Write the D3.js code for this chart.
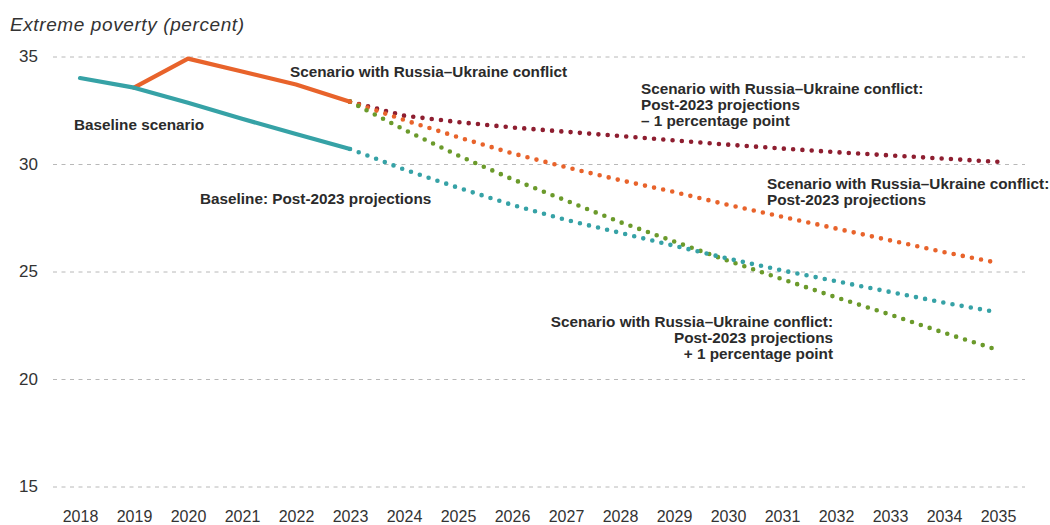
<!DOCTYPE html>
<html>
<head>
<meta charset="utf-8">
<script src="https://cdn.jsdelivr.net/npm/d3@7/dist/d3.min.js"></script>
<style>
  html, body { margin: 0; padding: 0; background: #fff; }
  svg { display: block; font-family: "Liberation Sans", Arial, Helvetica, sans-serif; }
</style>
</head>
<body>
<svg id="chart" width="1050" height="525"></svg>
<script>
// ---- data ----
const yearTicks = [2018, 2019, 2020, 2021, 2022, 2023, 2024, 2025, 2026, 2027, 2028, 2029, 2030, 2031, 2032, 2033, 2034, 2035];
const valueTicks = [15, 20, 25, 30, 35];

const baselineYears = [2018, 2019, 2020, 2021, 2022, 2023];
const baselineValues = [34.0, 33.55, 32.85, 32.1, 31.4, 30.7];

const conflictYears = [2019, 2020, 2021, 2022, 2023];
const conflictValues = [33.55, 34.9, 34.3, 33.7, 32.9];

const projYears = [2023, 2024, 2025, 2026, 2027, 2028, 2029, 2030, 2031, 2032, 2033, 2034, 2035];
const baselineProj = [30.7, 29.75, 28.9, 28.1, 27.4, 26.8, 26.2, 25.6, 25.05, 24.55, 24.05, 23.55, 23.1];
const conflictProj = [32.9, 32.05, 31.25, 30.5, 29.85, 29.25, 28.7, 28.1, 27.55, 27.0, 26.45, 25.9, 25.4];
const conflictMinus1Proj = [32.9, 32.25, 31.95, 31.7, 31.5, 31.3, 31.1, 30.9, 30.72, 30.55, 30.4, 30.25, 30.1];
const conflictPlus1Proj = [32.9, 31.6, 30.4, 29.3, 28.3, 27.3, 26.4, 25.5, 24.65, 23.8, 23.0, 22.15, 21.35];

// ---- layout ----
const svg = d3.select("#chart");
const colors = { teal: "#36a2a6", orange: "#e8632b", red: "#8e1e30", green: "#6b9a2b", text: "#2b2b2b" };

const x = d3.scaleLinear().domain([2018, 2035]).range([80, 998]);
const y = d3.scaleLinear().domain([15, 35]).range([486.5, 56.5]);

// gridlines + y labels
const yAxis = d3.axisLeft(y).tickValues(valueTicks).tickSize(-(1025 - 53)).tickPadding(15).tickFormat(d3.format("d"));
const gy = svg.append("g").attr("transform", "translate(53,0)").call(yAxis);
gy.select(".domain").remove();
gy.selectAll(".tick line").attr("stroke", "#b8b8b8").attr("stroke-width", 1).attr("stroke-dasharray", "4,4.5");
gy.selectAll(".tick text").attr("fill", "#333").style("font-size", "17px").attr("font-family", null);

// x labels
const xAxis = d3.axisBottom(x).tickValues(yearTicks).tickSize(0).tickFormat(d3.format("d"));
const gx = svg.append("g").attr("transform", "translate(0,486.5)").call(xAxis);
gx.select(".domain").remove();
gx.selectAll(".tick text").attr("fill", "#333").attr("y", 35.5).attr("dy", 0).style("font-size", "16px").attr("font-family", null);

// title
svg.append("text").attr("x", 10).attr("y", 31).attr("fill", "#333")
  .style("font-size", "19px").style("font-style", "italic").style("letter-spacing", "0.6px")
  .text("Extreme poverty (percent)");

const line = d3.line().x(d => x(d[0])).y(d => y(d[1]));
const zip = (xs, vs) => xs.map((v, i) => [v, vs[i]]);

function dotted(vals, color) {
  svg.append("path").datum(zip(projYears, vals))
    .attr("d", line).attr("fill", "none").attr("stroke", color)
    .attr("stroke-width", 4.6).attr("stroke-linecap", "round")
    .attr("stroke-dasharray", "0,9.3").attr("stroke-dashoffset", -9.3);
}
dotted(conflictMinus1Proj, colors.red);
dotted(conflictProj, colors.orange);
dotted(conflictPlus1Proj, colors.green);
dotted(baselineProj, colors.teal);

function solid(xs, vals, color) {
  svg.append("path").datum(zip(xs, vals)).attr("d", line).attr("fill", "none")
    .attr("stroke", color).attr("stroke-width", 4.2).attr("stroke-linecap", "round").attr("stroke-linejoin", "round");
}
solid(conflictYears, conflictValues, colors.orange);
solid(baselineYears, baselineValues, colors.teal);

// annotations
function label(lines, xPos, yFirst, anchor) {
  const t = svg.append("text").attr("fill", colors.text).attr("text-anchor", anchor || "start")
    .style("font-size", "15.3px").style("font-weight", "bold");
  lines.forEach((s, i) => t.append("tspan").attr("x", xPos).attr("y", yFirst + i * 16).text(s));
}
label(["Scenario with Russia–Ukraine conflict"], 290, 77);
label(["Baseline scenario"], 74, 130);
label(["Baseline: Post-2023 projections"], 200, 204);
label(["Scenario with Russia–Ukraine conflict:", "Post-2023 projections", "– 1 percentage point"], 641, 94);
label(["Scenario with Russia–Ukraine conflict:", "Post-2023 projections"], 767, 189);
label(["Scenario with Russia–Ukraine conflict:", "Post-2023 projections", "+ 1 percentage point"], 833, 327, "end");
</script>
</body>
</html>
